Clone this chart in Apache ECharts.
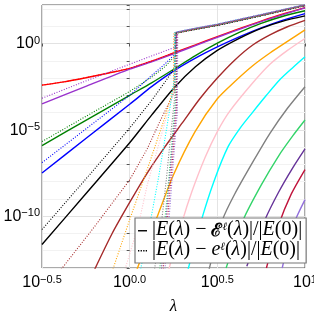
<!DOCTYPE html>
<html><head><meta charset="utf-8">
<script src="https://cdn.jsdelivr.net/npm/echarts@6/dist/echarts.min.js"></script>
<style>html,body{margin:0;padding:0;background:#fff}#c{width:314px;height:318px}</style>
</head><body><div id="c"></div>
<script>
// axis ticks (log10 units)
const xTickVals = [-0.5, 0, 0.5, 1];
const xTickText = ['\u22120.5', '0.0', '0.5', '1'];
const yLabelVals = [-10, -5, 0];
const yLabelText = ['\u221210', '\u22125', '0'];
const legendNames = ['solid', 'dotted'];

// colours of the ℓ family
const colors = ['#ff0000', '#9932cc', '#008000', '#0000ff', '#000000', '#a52a2a', '#ffa500',
  '#ffc0cb', '#00ffff', '#808080', '#33d46a', '#663399', '#c0143c', '#9370db'];

// solid curves: [log10 λ, log10 |E − 𝓔ℓ|/|E(0)|]
const sRed = [[-0.5,-2.41],[-0.375,-2.22],[-0.25,-1.98],[-0.125,-1.72],[0,-1.44],[0.125,-1.02],[0.25,-0.55],[0.375,-0.08],[0.5,0.40],[0.625,0.86],[0.75,1.30],[0.875,1.71],[1,2.08]];
const sPurple = [[-0.5,-3.50],[-0.25,-2.48],[0,-1.48],[0.125,-1.06],[0.25,-0.60],[0.375,-0.12],[0.5,0.36],[0.75,1.27],[1,2.06]];
const sGreen = [[-0.5,-5.91],[-0.25,-4.45],[0,-3.0],[0.125,-2.28],[0.25,-1.5],[0.375,-0.7],[0.5,0.02],[0.625,0.65],[0.75,1.17],[0.875,1.58],[1,1.9]];
const sBlue = [[-0.5,-7.5],[-0.25,-5.5],[0,-3.52],[0.125,-2.5],[0.25,-1.6],[0.375,-0.85],[0.5,-0.2],[0.625,0.38],[0.75,0.9],[0.875,1.35],[1,1.73]];
const sBlack = [[-0.5,-11.64],[-0.25,-8.7],[0,-5.75],[0.125,-4.15],[0.25,-2.6],[0.375,-1.35],[0.5,-0.4],[0.625,0.3],[0.75,0.88],[0.875,1.3],[1,1.6]];
const sBrown = [[-0.21,-13.3],[-0.1,-11.0],[0,-9.2],[0.1,-7.5],[0.2,-6.0],[0.3,-4.6],[0.4,-3.2],[0.5,-2.0],[0.6,-0.95],[0.7,-0.1],[0.8,0.5],[0.9,0.97],[1,1.34]];
const sOrange = [[0.03,-13.4],[0.1,-11.5],[0.162,-9.9],[0.25,-7.6],[0.373,-5.1],[0.5,-3.2],[0.6,-2.2],[0.7,-1.3],[0.8,-0.55],[0.9,0.12],[1,0.79]];
const sPink = [[0.22,-13.2],[0.3,-10.3],[0.354,-8.6],[0.43,-6.6],[0.5,-5.1],[0.572,-3.9],[0.7,-2.3],[0.8,-1.2],[0.9,-0.4],[1,0.29]];
const sCyan = [[0.33,-13.2],[0.41,-10.2],[0.48,-8.0],[0.56,-6.0],[0.63,-4.9],[0.7,-4.0],[0.78,-3.0],[0.856,-2.1],[0.93,-1.4],[1,-0.77]];
const sGray = [[0.45,-13.2],[0.53,-10.2],[0.6,-8.7],[0.706,-6.8],[0.8,-5.2],[0.9,-3.75],[1,-2.5]];
const sSpring = [[0.55,-13.0],[0.648,-10.2],[0.75,-8.2],[0.85,-6.5],[0.93,-5.35],[1,-4.43]];
const sPurple2 = [[0.668,-12.9],[0.772,-10.2],[0.85,-8.6],[0.93,-7.2],[1,-6.1]];
const sCrimson = [[0.78,-13.0],[0.85,-10.5],[0.92,-8.75],[1,-7.3]];
const sLavender = [[0.87,-13.0],[0.934,-10.5],[1,-9.04]];

// dotted curves: [log10 λ, log10 |E − eℓ|/|E(0)|]
const dRed = [[-0.5,-2.41],[-0.375,-2.22],[-0.25,-1.98],[-0.125,-1.72],[0,-1.44],[0.125,-1.02],[0.25,-0.55],[0.27,-0.48],[0.272,0.62],[0.35,0.78],[0.5,1.06],[0.75,1.62],[1,2.2]];
const dPurple = [[-0.5,-3.17],[-0.25,-2.17],[0,-1.2],[0.125,-0.72],[0.25,-0.25],[0.265,-0.18],[0.267,0.66],[0.35,0.82],[0.5,1.1],[0.75,1.66],[1,2.23]];
const dGreen = [[-0.5,-5.68],[-0.25,-4.22],[0,-2.78],[0.125,-1.95],[0.2,-1.35],[0.262,-0.7],[0.264,0.6],[0.35,0.77],[0.5,1.04],[0.75,1.6],[1,2.19]];
const dBlue = [[-0.5,-6.9],[-0.25,-4.95],[0,-3.0],[0.125,-1.85],[0.2,-1.2],[0.26,-0.6],[0.262,0.6],[0.35,0.78],[0.5,1.05],[0.75,1.61],[1,2.2]];
const dBlack = [[-0.5,-10.77],[-0.25,-7.85],[0,-4.9],[0.125,-3.3],[0.2,-2.25],[0.258,-1.4],[0.26,0.6],[0.35,0.77],[0.5,1.05],[0.75,1.61],[1,2.2]];
const dBrown = [[-0.4,-13.2],[-0.2,-10.6],[0,-7.9],[0.1,-6.1],[0.173,-4.5],[0.255,-2.8],[0.257,0.62],[0.35,0.79],[0.5,1.07],[0.75,1.63],[1,2.21]];
const dOrange = [[-0.1,-13.2],[0,-10.2],[0.1,-7.3],[0.15,-5.8],[0.2,-4.3],[0.25,-2.6],[0.252,0.6],[0.35,0.8],[0.5,1.08],[0.75,1.64],[1,2.22]];
const dPink = [[-0.03,-13.2],[0.05,-10.5],[0.1,-8.2],[0.15,-6.4],[0.2,-4.6],[0.252,-2.8],[0.254,0.64],[0.35,0.83],[0.5,1.11],[0.75,1.67],[1,2.24]];
const dCyan = [[0.06,-13.2],[0.12,-10.2],[0.164,-7.8],[0.2,-5.6],[0.235,-3.4],[0.255,-2.0],[0.257,0.64],[0.35,0.84],[0.5,1.12],[0.75,1.68],[1,2.25]];
const dGray = [[0.14,-13.2],[0.18,-10.5],[0.21,-7.8],[0.235,-5.2],[0.258,-3.0],[0.26,0.6],[0.35,0.8],[0.5,1.08],[0.75,1.64],[1,2.22]];
const dSpring = [[0.17,-13.2],[0.2,-10.3],[0.225,-7.6],[0.25,-4.6],[0.262,-3.2],[0.264,0.62],[0.35,0.81],[0.5,1.09],[0.75,1.65],[1,2.23]];
const dPurple2 = [[0.18,-13.2],[0.205,-10.5],[0.23,-7.5],[0.255,-4.6],[0.265,-3.5],[0.267,0.66],[0.35,0.83],[0.5,1.11],[0.75,1.67],[1,2.24]];
const dCrimson = [[0.19,-13.2],[0.215,-10.3],[0.24,-7.2],[0.262,-4.5],[0.268,-3.8],[0.27,0.62],[0.35,0.8],[0.5,1.09],[0.75,1.65],[1,2.23]];
const dLavender = [[0.2,-13.2],[0.222,-10.5],[0.245,-7.4],[0.265,-4.8],[0.272,-4.0],[0.274,0.68],[0.35,0.85],[0.5,1.13],[0.75,1.69],[1,2.26]];

const solids = [sRed, sPurple, sGreen, sBlue, sBlack, sBrown, sOrange, sPink, sCyan, sGray, sSpring, sPurple2, sCrimson, sLavender];
const dotteds = [dRed, dPurple, dGreen, dBlue, dBlack, dBrown, dOrange, dPink, dCyan, dGray, dSpring, dPurple2, dCrimson, dLavender];

const series = [];
solids.forEach((d, i) => series.push({
  type: 'line', data: d, showSymbol: false, symbol: 'none', smooth: 0.25,
  lineStyle: { color: colors[i], width: 1.4 }, silent: true, z: 2
}));
dotteds.forEach((d, i) => series.push({
  type: 'line', data: d, showSymbol: false, symbol: 'none',
  lineStyle: { color: colors[i], width: 1.1, type: [1, 1.6] }, silent: true, z: 3
}));
series.push({ name: legendNames[0], type: 'line', data: [], symbol: 'none', lineStyle: { color: '#000', width: 1.6 }, itemStyle: { color: '#000' } });
series.push({ name: legendNames[1], type: 'line', data: [], symbol: 'none', lineStyle: { color: '#000', width: 1.1 }, itemStyle: { color: '#000' } });

const lab = {
  b: { fontFamily: 'Liberation Sans', fontSize: 16, color: '#000', verticalAlign: 'bottom', lineHeight: 17 },
  s: { fontFamily: 'Liberation Sans', fontSize: 11, color: '#000', verticalAlign: 'top', lineHeight: 17 }
};

const chart = echarts.init(document.getElementById('c'), null, { renderer: 'canvas' });
chart.setOption({
  animation: false,
  backgroundColor: '#fff',
  grid: { left: 42, right: 9, top: 5, bottom: 50, show: true, borderColor: '#555', borderWidth: 1, containLabel: false, outerBoundsMode: 'none' },
  xAxis: {
    type: 'value', min: -0.5, max: 1, interval: 0.5,
    axisLine: { show: false },
    axisTick: { show: true, inside: false, length: 3, lineStyle: { color: '#555' } },
    splitLine: { show: true, lineStyle: { color: '#e4e4e4', width: 1 } },
    axisLabel: {
      margin: 6, interval: 0, rich: lab,
      formatter: v => { const k = xTickVals.findIndex(t => Math.abs(t - v) < 1e-6); return k < 0 ? '' : '{b|10}{s|' + xTickText[k] + '}'; }
    },
    name: 'λ', nameLocation: 'middle', nameGap: 30,
    nameTextStyle: { fontFamily: 'Liberation Serif', fontStyle: 'italic', fontSize: 17, color: '#000' }
  },
  yAxis: {
    type: 'value', min: -13, max: 2.23, interval: 1,
    axisLine: { show: false },
    axisTick: { show: true, inside: false, length: 3, lineStyle: { color: '#555' } },
    splitLine: { show: true, lineStyle: { color: ['#f2f2f2', '#f2f2f2', '#f2f2f2', '#e2e2e2', '#f2f2f2'], width: 1 } },
    axisLabel: {
      margin: 2, interval: 0, rich: lab,
      formatter: v => { const k = yLabelVals.findIndex(t => Math.abs(t - v) < 1e-6); return k < 0 ? '' : '{b|10}{s|' + yLabelText[k] + '}'; }
    }
  },
  legend: {
    data: [
      { name: legendNames[0], icon: 'path://M0,0h9v1.4h-9z' },
      { name: legendNames[1], icon: 'path://M0,0h1.3v1.4h-1.3zM2.6,0h1.3v1.4h-1.3zM5.2,0h1.3v1.4h-1.3zM7.7,0h1.3v1.4h-1.3z' }
    ],
    orient: 'vertical', left: 135, top: 218,
    itemWidth: 9, itemHeight: 1.4, itemGap: 0,
    padding: [2, 4, 3, 3],
    backgroundColor: '#fff', borderColor: '#777', borderWidth: 1.2, borderRadius: 0,
    selectedMode: false,
    itemStyle: { color: '#000', borderWidth: 0 },
    lineStyle: { width: 0 },
    formatter: name => name === legendNames[0]
      ? '{n||}{i|E}{n|(}{i|λ}{n|) − }{c|ℰ}{s|ℓ}{n|(}{i|λ}{n|)|/|}{i|E}{n|(0)|}'
      : '{n||}{i|E}{n|(}{i|λ}{n|) − }{i|e}{s|ℓ}{n|(}{i|λ}{n|)|/|}{i|E}{n|(0)|}',
    textStyle: {
      rich: {
        n: { fontFamily: 'Liberation Serif', fontSize: 20, color: '#000', lineHeight: 18.5, verticalAlign: 'bottom' },
        i: { fontFamily: 'Liberation Serif', fontStyle: 'italic', fontSize: 20, color: '#000', lineHeight: 18.5, verticalAlign: 'bottom' },
        c: { fontFamily: 'DejaVu Serif', fontWeight: 'bold', fontSize: 18, color: '#000', lineHeight: 18.5, verticalAlign: 'bottom' },
        s: { fontFamily: 'Liberation Serif', fontStyle: 'italic', fontSize: 11, color: '#000', lineHeight: 18.5, verticalAlign: 'top' }
      }
    }
  },
  series: series
});
</script></body></html>
